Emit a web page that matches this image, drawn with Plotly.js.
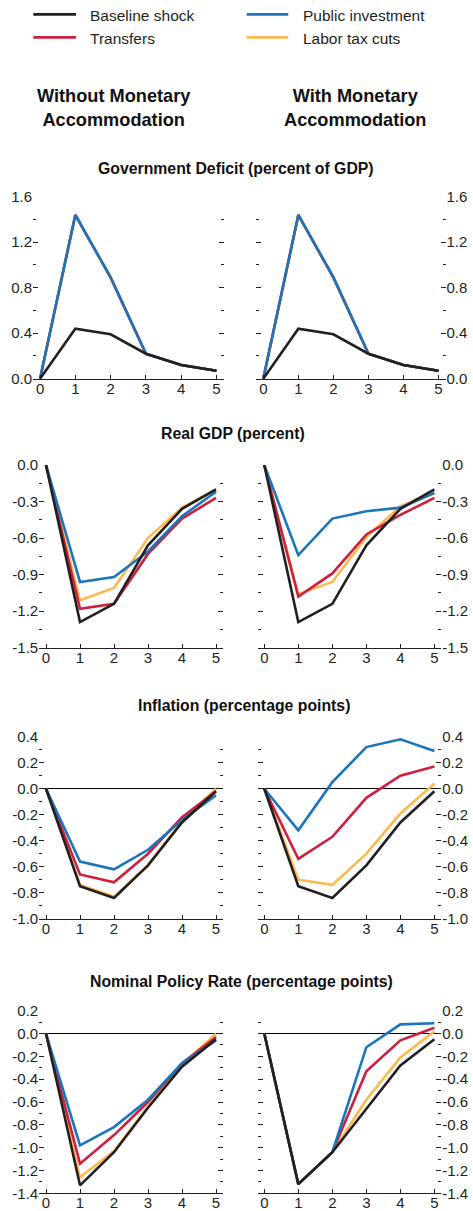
<!DOCTYPE html>
<html><head><meta charset="utf-8">
<script src="https://cdn.plot.ly/plotly-3.0.1.min.js"></script>
<style>html,body{margin:0;padding:0;background:#fff}#chart{width:473px;height:1211px}</style>
</head><body><div id="chart"></div>
<script>
// ---------- data ----------
const years = [0, 1, 2, 3, 4, 5];
const seriesNames = ['Baseline shock', 'Transfers', 'Public investment', 'Labor tax cuts'];
const columnTitles = ['Without Monetary<br>Accommodation', 'With Monetary<br>Accommodation'];
const panelTitles = ['Government Deficit (percent of GDP)', 'Real GDP (percent)',
  'Inflation (percentage points)', 'Nominal Policy Rate (percentage points)'];

// Government deficit (percent of GDP)
const deficitNoAccBaseline  = [0, 0.44, 0.39, 0.22, 0.12, 0.07];
const deficitNoAccTransfers = [0, 1.44, 0.89, 0.22, 0.12, 0.07];
const deficitNoAccPublic    = [0, 1.44, 0.89, 0.22, 0.12, 0.07];
const deficitNoAccLabor     = [0, 1.44, 0.89, 0.22, 0.12, 0.07];
const deficitAccBaseline    = [0, 0.44, 0.39, 0.22, 0.12, 0.07];
const deficitAccTransfers   = [0, 1.44, 0.89, 0.22, 0.12, 0.07];
const deficitAccPublic      = [0, 1.44, 0.89, 0.22, 0.12, 0.07];
const deficitAccLabor       = [0, 1.44, 0.89, 0.22, 0.12, 0.07];

// Real GDP (percent)
const gdpNoAccBaseline  = [0, -1.29, -1.14, -0.66, -0.36, -0.20];
const gdpNoAccTransfers = [0, -1.18, -1.14, -0.73, -0.44, -0.27];
const gdpNoAccPublic    = [0, -0.96, -0.92, -0.71, -0.42, -0.22];
const gdpNoAccLabor     = [0, -1.11, -1.01, -0.60, -0.35, -0.20];
const gdpAccBaseline    = [0, -1.29, -1.14, -0.66, -0.36, -0.20];
const gdpAccTransfers   = [0, -1.08, -0.89, -0.57, -0.41, -0.27];
const gdpAccPublic      = [0, -0.74, -0.44, -0.38, -0.35, -0.23];
const gdpAccLabor       = [0, -1.06, -0.96, -0.59, -0.34, -0.22];

// Inflation (percentage points)
const inflNoAccBaseline  = [0, -0.75, -0.84, -0.59, -0.26, -0.02];
const inflNoAccTransfers = [0, -0.66, -0.72, -0.50, -0.22, -0.02];
const inflNoAccPublic    = [0, -0.56, -0.62, -0.47, -0.24, -0.05];
const inflNoAccLabor     = [0, -0.74, -0.83, -0.59, -0.25, 0.00];
const inflAccBaseline    = [0, -0.75, -0.84, -0.59, -0.26, -0.02];
const inflAccTransfers   = [0, -0.54, -0.37, -0.07, 0.10, 0.17];
const inflAccPublic      = [0, -0.32, 0.05, 0.32, 0.38, 0.29];
const inflAccLabor       = [0, -0.70, -0.74, -0.50, -0.19, 0.04];

// Nominal policy rate (percentage points)
const rateNoAccBaseline  = [0, -1.33, -1.04, -0.65, -0.29, -0.05];
const rateNoAccTransfers = [0, -1.14, -0.89, -0.60, -0.26, -0.03];
const rateNoAccPublic    = [0, -0.98, -0.82, -0.58, -0.26, -0.06];
const rateNoAccLabor     = [0, -1.26, -1.03, -0.64, -0.28, 0.00];
const rateAccBaseline    = [0, -1.32, -1.04, -0.66, -0.28, -0.05];
const rateAccTransfers   = [0, -1.32, -1.04, -0.33, -0.06, 0.05];
const rateAccPublic      = [0, -1.32, -1.04, -0.12, 0.08, 0.09];
const rateAccLabor       = [0, -1.32, -1.04, -0.58, -0.21, 0.02];

// y tick labels per panel
const deficitTicks = [0, 0.4, 0.8, 1.2, 1.6];
const deficitTickText = ['0.0', '0.4', '0.8', '1.2', '1.6'];
const gdpTicks = [-1.5, -1.2, -0.9, -0.6, -0.3, 0];
const gdpTickText = ['-1.5', '-1.2', '-0.9', '-0.6', '-0.3', '0.0'];
const inflTicks = [-1.0, -0.8, -0.6, -0.4, -0.2, 0, 0.2, 0.4];
const inflTickText = ['-1.0', '-0.8', '-0.6', '-0.4', '-0.2', '0.0', '0.2', '0.4'];
const rateTicks = [-1.4, -1.2, -1.0, -0.8, -0.6, -0.4, -0.2, 0, 0.2];
const rateTickText = ['-1.4', '-1.2', '-1.0', '-0.8', '-0.6', '-0.4', '-0.2', '0.0', '0.2'];

// ---------- styling ----------
const W = 473, H = 1211;
const colors = {base: '#231f20', transfers: '#cf1f3e', pub: '#1b75bb', labor: '#fdb94e'};
const ink = '#231f20';
const px = x => x / W;
const py = y => 1 - y / H;
const regular = '"Liberation Sans", Arial, sans-serif';

const panels = [
  {cols: [[deficitNoAccBaseline, deficitNoAccTransfers, deficitNoAccPublic, deficitNoAccLabor],
          [deficitAccBaseline, deficitAccTransfers, deficitAccPublic, deficitAccLabor]],
   range: [0, 1.6], ticks: deficitTicks, text: deficitTickText, minor: 0.2, zero: false,
   yTop: 196.7, yBot: 378.7, xl: [33, 223.5], xr: [256.3, 445.5], title: 168.3, tx: 236.3},
  {cols: [[gdpNoAccBaseline, gdpNoAccTransfers, gdpNoAccPublic, gdpNoAccLabor],
          [gdpAccBaseline, gdpAccTransfers, gdpAccPublic, gdpAccLabor]],
   range: [-1.5, 0], ticks: gdpTicks, text: gdpTickText, minor: 0.15, zero: false,
   yTop: 465, yBot: 647.7, xl: [39.2, 222.8], xr: [257.5, 441.2], title: 433.7, tx: 232.5},
  {cols: [[inflNoAccBaseline, inflNoAccTransfers, inflNoAccPublic, inflNoAccLabor],
          [inflAccBaseline, inflAccTransfers, inflAccPublic, inflAccLabor]],
   range: [-1.0, 0.4], ticks: inflTicks, text: inflTickText, minor: 0.1, zero: true,
   yTop: 736.7, yBot: 918.7, xl: [39.2, 222.8], xr: [257.5, 441.2], title: 705.5, tx: 243.7},
  {cols: [[rateNoAccBaseline, rateNoAccTransfers, rateNoAccPublic, rateNoAccLabor],
          [rateAccBaseline, rateAccTransfers, rateAccPublic, rateAccLabor]],
   range: [-1.4, 0.2], ticks: rateTicks, text: rateTickText, minor: 0.1, zero: true,
   yTop: 1010.7, yBot: 1193.3, xl: [39.2, 222.8], xr: [257.5, 441.2], title: 981.7, tx: 241.8}
];

const traces = [];
const layout = {
  width: W, height: H, margin: {l: 0, r: 0, t: 0, b: 0},
  paper_bgcolor: '#fff', plot_bgcolor: '#fff', showlegend: false,
  font: {family: regular, color: ink},
  annotations: [], shapes: []
};

// draw order: labor, transfers, public, baseline (baseline on top)
const drawOrder = [3, 1, 2, 0];
const seriesColors = [colors.base, colors.transfers, colors.pub, colors.labor];

let n = 0;
panels.forEach((p, pi) => {
  p.cols.forEach((series, ci) => {
    n += 1;
    const xa = 'x' + (n === 1 ? '' : n), ya = 'y' + (n === 1 ? '' : n);
    drawOrder.forEach(si => {
      traces.push({
        x: years, y: series[si], xaxis: xa, yaxis: ya, type: 'scatter', mode: 'lines',
        name: seriesNames[si], line: {color: seriesColors[si], width: 2.6}, hoverinfo: 'skip'
      });
    });
    const dom = ci === 0 ? p.xl : p.xr;
    layout['xaxis' + (n === 1 ? '' : n)] = {
      domain: [px(dom[0]), px(dom[1])], anchor: ya, range: [-0.2, 5.2],
      tickmode: 'array', tickvals: years, ticktext: years.map(String),
      ticks: 'inside', ticklen: 4, tickwidth: 1, tickcolor: ink, ticklabelstandoff: -4,
      showline: true, linecolor: ink, linewidth: 1, showgrid: false, zeroline: false,
      tickfont: {family: regular, size: 15, color: ink}, fixedrange: true
    };
    layout['yaxis' + (n === 1 ? '' : n)] = {
      domain: [py(p.yBot), py(p.yTop)], anchor: xa, range: p.range,
      side: ci === 0 ? 'left' : 'right',
      tickmode: 'array', tickvals: p.ticks, ticktext: p.text,
      ticks: 'inside', ticklen: 5, tickwidth: 1, tickcolor: ink, mirror: 'ticks',
      minor: {ticks: 'inside', dtick: p.minor, tick0: 0, ticklen: 3, tickwidth: 1, tickcolor: ink, showgrid: false},
      showline: false, showgrid: false,
      zeroline: p.zero, zerolinecolor: '#000', zerolinewidth: 1,
      tickfont: {family: regular, size: 15, color: ink}, fixedrange: true
    };
  });
  layout.annotations.push({
    text: '<b>' + panelTitles[pi] + '</b>', xref: 'paper', yref: 'paper',
    x: px(p.tx), y: py(p.title), xanchor: 'center', yanchor: 'middle', showarrow: false,
    font: {family: regular, size: 15.8, color: '#111'}
  });
});

// column headers
[[114, columnTitles[0]], [355, columnTitles[1]]].forEach(([cx, t]) => {
  layout.annotations.push({
    text: '<b>' + t + '</b>', xref: 'paper', yref: 'paper', x: px(cx), y: py(107.6),
    xanchor: 'center', yanchor: 'middle', showarrow: false, align: 'center',
    font: {family: regular, size: 18.2, color: '#111'}
  });
});

// legend (manual, two columns)
const legendItems = [
  {si: 0, x0: 33.3, x1: 76, tx: 87.7, y: 15},
  {si: 1, x0: 33.3, x1: 76, tx: 87.7, y: 38},
  {si: 2, x0: 246.7, x1: 288.3, tx: 300.7, y: 15},
  {si: 3, x0: 246.7, x1: 288.3, tx: 300.7, y: 38}
];
legendItems.forEach(it => {
  layout.shapes.push({type: 'line', xref: 'paper', yref: 'paper',
    x0: px(it.x0), x1: px(it.x1), y0: py(it.y - 0.7), y1: py(it.y - 0.7),
    line: {color: seriesColors[it.si], width: 2.8}});
  layout.annotations.push({
    text: seriesNames[it.si], xref: 'paper', yref: 'paper', x: px(it.tx), y: py(it.y),
    xanchor: 'left', yanchor: 'middle', showarrow: false,
    font: {family: regular, size: 15.5, color: ink}
  });
});

Plotly.newPlot('chart', traces, layout, {staticPlot: true, displayModeBar: false});
</script>
</body></html>
